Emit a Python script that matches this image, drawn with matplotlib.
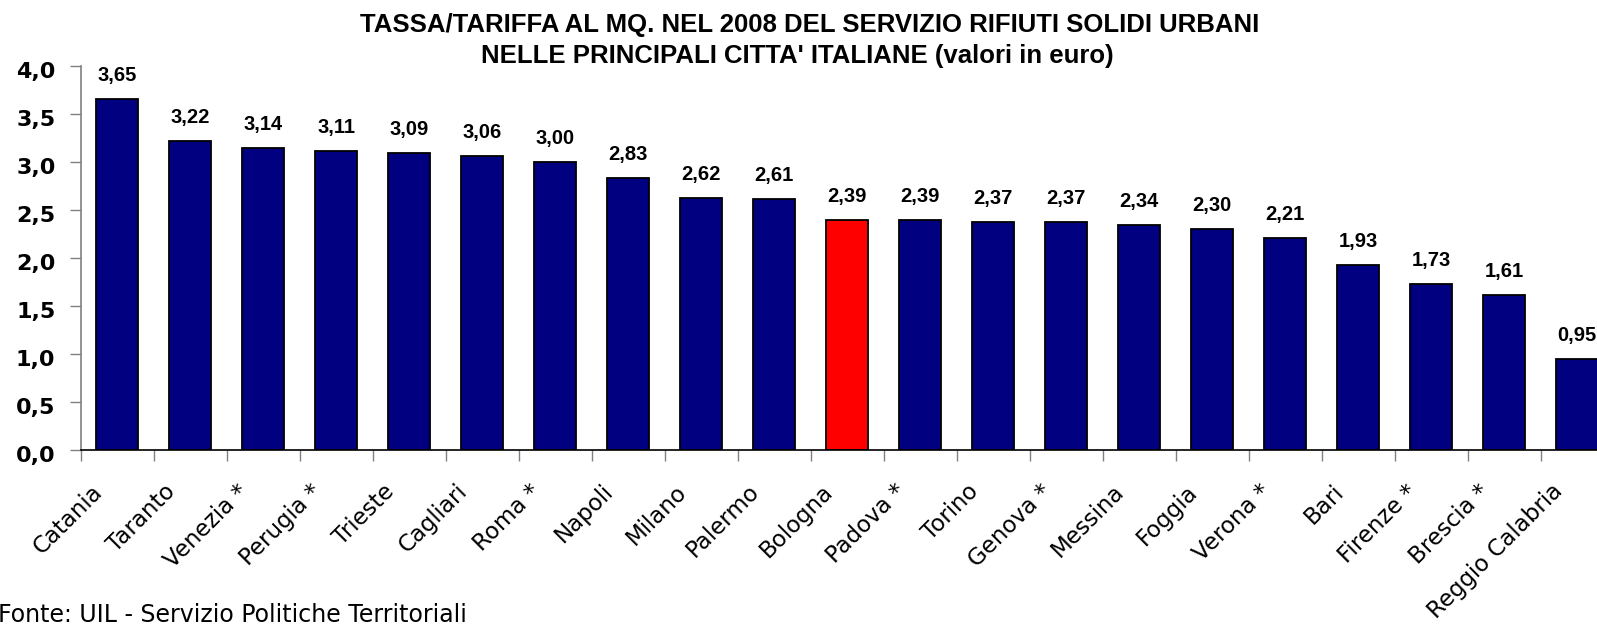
import matplotlib.pyplot as plt
from matplotlib.transforms import ScaledTranslation
import numpy as np

cities = ["Catania", "Taranto", "Venezia *", "Perugia *", "Trieste", "Cagliari",
          "Roma *", "Napoli", "Milano", "Palermo", "Bologna", "Padova *", "Torino",
          "Genova *", "Messina", "Foggia", "Verona *", "Bari", "Firenze *",
          "Brescia *", "Reggio Calabria"]
values = [3.65, 3.22, 3.14, 3.11, 3.09, 3.06, 3.00, 2.83, 2.62, 2.61, 2.39, 2.39,
          2.37, 2.37, 2.34, 2.30, 2.21, 1.93, 1.73, 1.61, 0.95]
highlight = "Bologna"
y_ticks = [0.0, 0.5, 1.0, 1.5, 2.0, 2.5, 3.0, 3.5, 4.0]

W, H = 1597, 626
fig = plt.figure(figsize=(W / 100, H / 100), dpi=100)
# axes intentionally runs past the right edge (the original is cropped)
ax = fig.add_axes([80.5 / W, (H - 450) / H, 1533 / W, (450 - 65.7) / H])

x = np.arange(len(cities))
colors = ["#ff0000" if c == highlight else "#000080" for c in cities]
ax.bar(x, values, width=0.583, color=colors, edgecolor="black", linewidth=1.3)

for xi, v in zip(x, values):
    ax.annotate(f"{v:.2f}".replace(".", ","), (xi, v), xytext=(0, 13),
                textcoords="offset points", ha="center", va="baseline",
                fontsize=14.5, fontweight="bold", family="Liberation Sans")

ax.set_xlim(-0.5, len(cities) - 0.5)
ax.set_ylim(0, 4.0)
ax.set_yticks(y_ticks)
ax.set_yticklabels([f"{t:.1f}".replace(".", ",") for t in y_ticks],
                   fontsize=16, fontweight="bold", family="DejaVu Sans")
ax.tick_params(axis="y", length=8, width=1, color="#808080", pad=10)
dy = ScaledTranslation(0, -0.04, fig.dpi_scale_trans)
for lab in ax.get_yticklabels():
    lab.set_transform(lab.get_transform() + dy)

ax.set_xticks(x)
ax.set_xticklabels(cities, rotation=45, ha="right", va="center",
                   rotation_mode="anchor", fontsize=16.5, family="DejaVu Sans")
ax.tick_params(axis="x", which="major", length=0, pad=0)
shift = ScaledTranslation(-0.18, -0.38, fig.dpi_scale_trans)
for lab in ax.get_xticklabels():
    lab.set_transform(lab.get_transform() + shift)
ax.set_xticks(np.arange(-0.5, len(cities), 1), minor=True)
ax.tick_params(axis="x", which="minor", length=8, width=1, color="#808080")

for s in ["top", "right"]:
    ax.spines[s].set_visible(False)
ax.spines["left"].set_color("#808080")
ax.spines["left"].set_linewidth(1.2)
ax.spines["bottom"].set_color("black")
ax.spines["bottom"].set_linewidth(1.2)

title_font = ["Liberation Sans Narrow", "Liberation Sans"]
fig.text(810 / W, 1 - 32 / H,
         "TASSA/TARIFFA AL MQ. NEL 2008 DEL SERVIZIO RIFIUTI SOLIDI URBANI",
         ha="center", va="baseline", fontsize=18.5, fontweight="bold", family=title_font)
fig.text(797 / W, 1 - 63 / H,
         "NELLE PRINCIPALI CITTA' ITALIANE (valori in euro)",
         ha="center", va="baseline", fontsize=18.5, fontweight="bold", family=title_font)

fig.text(-2 / W, 4 / H, "Fonte: UIL - Servizio Politiche Territoriali",
         ha="left", va="baseline", fontsize=17, family="DejaVu Sans")

fig.savefig("out.png", dpi=100)
